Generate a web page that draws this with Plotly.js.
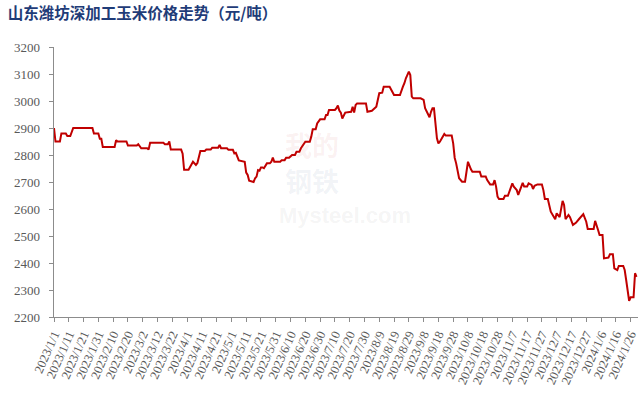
<!DOCTYPE html>
<html>
<head>
<meta charset="utf-8">
<script src="https://cdn.plot.ly/plotly-3.0.1.min.js"></script>
<style>
html,body{margin:0;padding:0;background:#fff;}
#chart{width:644px;height:405px;}
</style>
</head>
<body>
<div id="chart"></div>
<script>
const chartTitle = '山东潍坊深加工玉米价格走势（元/吨）';

const dates = [
'2023-01-01','2023-01-02','2023-01-05','2023-01-06','2023-01-09','2023-01-10','2023-01-12','2023-01-13','2023-01-14','2023-01-27',
'2023-01-28','2023-01-31','2023-02-01','2023-02-02','2023-02-03','2023-02-11','2023-02-12','2023-02-13','2023-02-19','2023-02-20',
'2023-02-26','2023-02-27','2023-03-01','2023-03-05','2023-03-06','2023-03-07','2023-03-16','2023-03-17','2023-03-19','2023-03-20',
'2023-03-21','2023-03-28','2023-03-29','2023-03-30','2023-04-02','2023-04-05','2023-04-07','2023-04-08','2023-04-10','2023-04-13',
'2023-04-14','2023-04-17','2023-04-18','2023-04-22','2023-04-23','2023-04-24','2023-04-28','2023-04-29','2023-05-02','2023-05-03',
'2023-05-04','2023-05-06','2023-05-10','2023-05-11','2023-05-12','2023-05-13','2023-05-16','2023-05-17','2023-05-18','2023-05-19',
'2023-05-20','2023-05-21','2023-05-22','2023-05-23','2023-05-25','2023-05-27','2023-05-28','2023-05-29','2023-05-30','2023-06-03',
'2023-06-04','2023-06-06','2023-06-07','2023-06-09','2023-06-11','2023-06-13','2023-06-14','2023-06-16','2023-06-17','2023-06-20',
'2023-06-23','2023-06-24','2023-06-25','2023-06-27','2023-06-28','2023-06-30','2023-07-03','2023-07-04','2023-07-05','2023-07-06',
'2023-07-10','2023-07-11','2023-07-12','2023-07-13','2023-07-14','2023-07-15','2023-07-16','2023-07-17','2023-07-21','2023-07-22',
'2023-07-23','2023-07-24','2023-07-25','2023-07-31','2023-08-01','2023-08-04','2023-08-07','2023-08-09','2023-08-11','2023-08-12',
'2023-08-16','2023-08-18','2023-08-19','2023-08-23','2023-08-24','2023-08-25','2023-08-26','2023-08-27','2023-08-29','2023-08-30',
'2023-08-31','2023-09-01','2023-09-06','2023-09-08','2023-09-09','2023-09-11','2023-09-12','2023-09-13','2023-09-14','2023-09-15',
'2023-09-16','2023-09-17','2023-09-18','2023-09-19','2023-09-22','2023-09-23','2023-09-27','2023-09-28','2023-09-29','2023-09-30',
'2023-10-02','2023-10-04','2023-10-06','2023-10-07','2023-10-08','2023-10-10','2023-10-11','2023-10-16','2023-10-17','2023-10-20',
'2023-10-21','2023-10-23','2023-10-25','2023-10-26','2023-10-27','2023-10-28','2023-10-29','2023-11-01','2023-11-02','2023-11-04',
'2023-11-06','2023-11-07','2023-11-08','2023-11-10','2023-11-11','2023-11-12','2023-11-14','2023-11-15','2023-11-17','2023-11-18',
'2023-11-20','2023-11-21','2023-11-22','2023-11-24','2023-11-27','2023-11-28','2023-11-29','2023-12-01','2023-12-03','2023-12-06',
'2023-12-07','2023-12-09','2023-12-11','2023-12-12','2023-12-13','2023-12-15','2023-12-16','2023-12-18','2023-12-20','2023-12-22',
'2023-12-24','2023-12-25','2023-12-27','2023-12-28','2024-01-01','2024-01-02','2024-01-04','2024-01-05','2024-01-07','2024-01-08',
'2024-01-11','2024-01-12','2024-01-14','2024-01-15','2024-01-17','2024-01-18','2024-01-21','2024-01-22','2024-01-23','2024-01-25',
'2024-01-26','2024-01-28','2024-01-29','2024-01-30'
];

const prices = [
2900,2850,2850,2880,2880,2870,2870,2890,2900,2900,
2880,2880,2860,2860,2830,2830,2855,2850,2850,2835,
2835,2840,2825,2825,2820,2845,2845,2840,2840,2850,
2820,2820,2805,2745,2745,2775,2763,2770,2815,2815,
2820,2820,2827,2827,2837,2825,2825,2819,2819,2806,
2808,2780,2775,2735,2726,2705,2700,2714,2720,2744,
2742,2754,2754,2751,2769,2769,2775,2790,2775,2775,
2781,2781,2790,2790,2800,2800,2812,2812,2825,2849,
2849,2868,2895,2895,2917,2932,2932,2948,2948,2967,
2967,2973,2983,2965,2957,2935,2950,2957,2960,2979,
2957,2985,2991,2991,2960,2964,2979,3029,3031,3053,
3053,3029,3022,3022,3041,3053,3066,3084,3109,3096,
3016,3010,3010,3004,2973,2948,2940,2960,2973,2973,
2923,2862,2843,2849,2878,2872,2872,2843,2790,2769,
2714,2701,2701,2744,2775,2747,2738,2738,2720,2720,
2707,2691,2691,2707,2683,2646,2637,2637,2649,2649,
2683,2695,2683,2670,2652,2670,2697,2683,2683,2695,
2689,2674,2686,2691,2691,2670,2637,2637,2590,2562,
2584,2570,2630,2615,2562,2578,2570,2541,2549,2562,
2574,2581,2553,2526,2526,2556,2522,2504,2504,2417,
2420,2432,2432,2380,2374,2389,2389,2374,2337,2260,
2273,2273,2362,2349
];

const xTickLabels = [
'2023/1/1','2023/1/11','2023/1/21','2023/1/31','2023/2/10','2023/2/20','2023/3/2','2023/3/12','2023/3/22','2023/4/1',
'2023/4/11','2023/4/21','2023/5/1','2023/5/11','2023/5/21','2023/5/31','2023/6/10','2023/6/20','2023/6/30','2023/7/10',
'2023/7/20','2023/7/30','2023/8/9','2023/8/19','2023/8/29','2023/9/8','2023/9/18','2023/9/28','2023/10/8','2023/10/18',
'2023/10/28','2023/11/7','2023/11/17','2023/11/27','2023/12/7','2023/12/17','2023/12/27','2024/1/6','2024/1/16','2024/1/26'
];

const yTickVals = [2200,2300,2400,2500,2600,2700,2800,2900,3000,3100,3200];

const watermarkTop = '我的';
const watermarkMid = '钢铁';
const watermarkBottom = 'Mysteel.com';

function toIso(lbl){
  const p = lbl.split('/');
  return p[0] + '-' + p[1].padStart(2,'0') + '-' + p[2].padStart(2,'0');
}
const xTickVals = xTickLabels.map(toIso);

const axisGray = '#8c8c8c';
const labelGray = '#595959';
const serif = '"Liberation Serif","Times New Roman",serif';

const trace = {
  x: dates, y: prices, type: 'scatter', mode: 'lines',
  line: {color: '#C00000', width: 2},
  hoverinfo: 'x+y'
};

const layout = {
  width: 644, height: 405,
  margin: {l: 54, r: 6, t: 47, b: 88},
  paper_bgcolor: '#ffffff', plot_bgcolor: '#ffffff',
  showlegend: false,
  title: {
    text: chartTitle, x: 0.012, xanchor: 'left', y: 0.967, yanchor: 'middle',
    font: {family: '"Noto Sans CJK SC", sans-serif', size: 15.5, color: '#1F3C78', weight: 'bold'}
  },
  xaxis: {
    type: 'date', range: ['2023-01-01', '2024-01-31'],
    tickmode: 'array', tickvals: xTickVals, ticktext: xTickLabels,
    tickangle: -66, ticks: 'outside', ticklen: 4, tickcolor: axisGray, tickwidth: 1,
    showline: true, linecolor: axisGray, linewidth: 1.3,
    showgrid: false, zeroline: false,
    tickfont: {family: serif, size: 12.5, color: labelGray},
    automargin: false
  },
  yaxis: {
    range: [2200, 3200], tickmode: 'array', tickvals: yTickVals,
    ticks: 'outside', ticklen: 4, tickcolor: axisGray, tickwidth: 1,
    showline: true, linecolor: axisGray, linewidth: 1.3,
    showgrid: false, zeroline: false,
    tickfont: {family: serif, size: 13, color: labelGray},
    ticklabelstandoff: 6,
    automargin: false
  },
  annotations: [
    {text: watermarkTop, xref: 'paper', yref: 'paper', x: 0.442, y: 0.64, showarrow: false,
     font: {family: '"Noto Sans CJK SC", sans-serif', size: 27, color: 'rgba(200,60,60,0.07)', weight: 'bold'}},
    {text: watermarkMid, xref: 'paper', yref: 'paper', x: 0.442, y: 0.505, showarrow: false,
     font: {family: '"Noto Sans CJK SC", sans-serif', size: 27, color: 'rgba(60,80,140,0.07)', weight: 'bold'}},
    {text: watermarkBottom, xref: 'paper', yref: 'paper', x: 0.498, y: 0.375, showarrow: false,
     font: {family: 'Arial, "Liberation Sans", sans-serif', size: 22, color: 'rgba(120,120,120,0.08)', weight: 'bold'}}
  ]
};

Plotly.newPlot('chart', [trace], layout, {displayModeBar: false, staticPlot: true});
</script>
</body>
</html>
